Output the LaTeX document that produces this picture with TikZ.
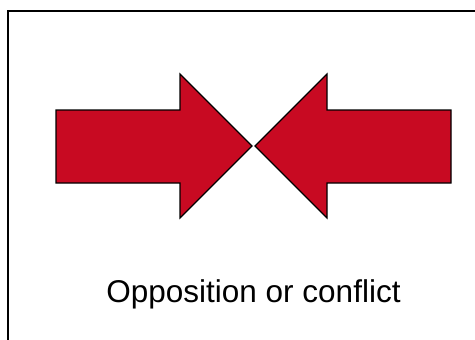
\documentclass[tikz,border=0pt]{standalone}
\usepackage{fontspec}
\setmainfont{Liberation Sans}
\definecolor{arrowred}{RGB}{200,10,34}
\begin{document}
\begin{tikzpicture}[x=1pt,y=-1pt,
  arrowshape/.style={fill=arrowred,draw=black,line width=1.1pt,line join=miter},
  label/.style={inner sep=0pt,anchor=base,font=\fontsize{31.5}{36}\selectfont}]
\useasboundingbox (0,0) rectangle (475,340);
\begin{scope}
\clip (0,0) rectangle (475,340);
\draw[line width=1.6pt] (8,11) rectangle (490,360);
\end{scope}
\coordinate (lt) at (252,146);
\coordinate (rt) at (255,146);
\draw[arrowshape] (56,110) -- (180,110) -- (180,74) -- (lt) -- (180,218) -- (180,183) -- (56,183) -- cycle;
\draw[arrowshape] (451,110) -- (327,110) -- (327,74) -- (rt) -- (327,218) -- (327,183) -- (451,183) -- cycle;
\node[label] (txt) at (253.5,302) {Opposition or conflict};
\end{tikzpicture}
\end{document}
